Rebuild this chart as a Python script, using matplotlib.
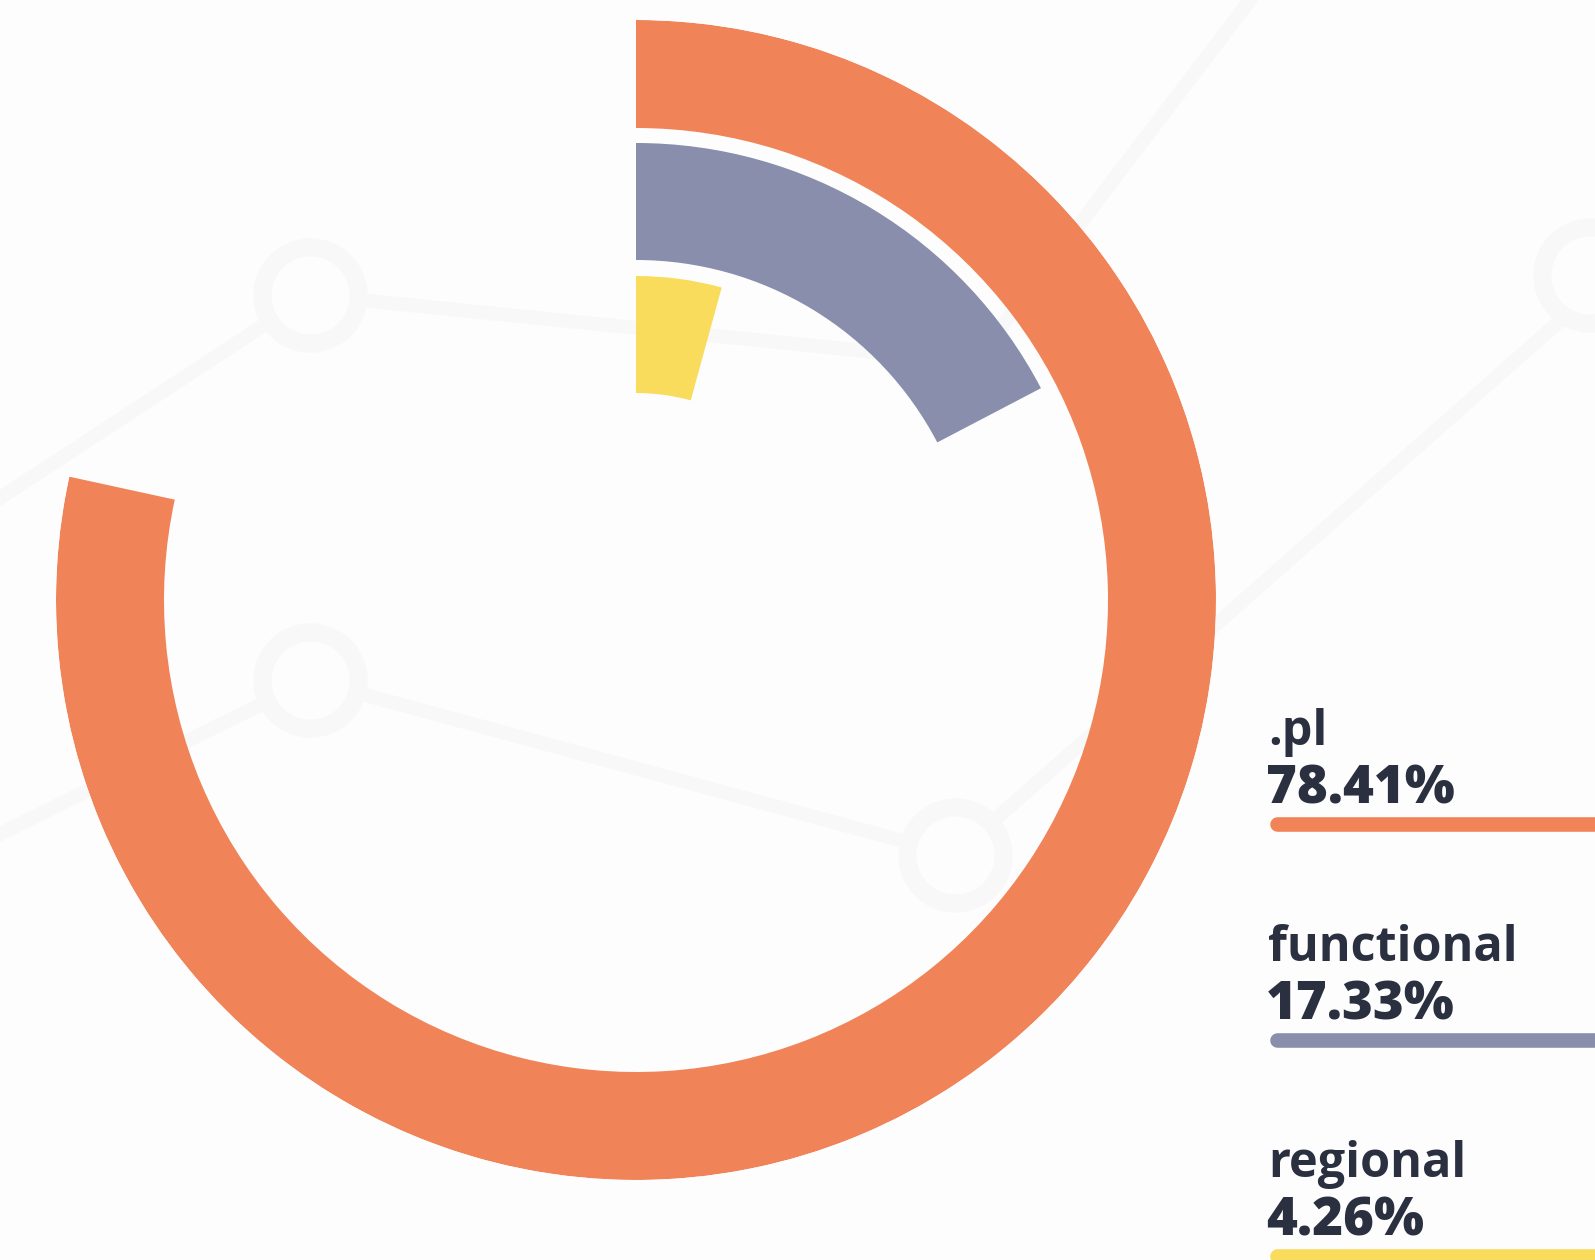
import numpy as np
import matplotlib.pyplot as plt

# data
categories = ['.pl', 'functional', 'regional']
shares = [78.41, 17.33, 4.26]
colors = ['#f08458', '#888eac', '#f9dc5c']
text_color = '#2b3040'

# faint decorative line chart in the background (pixel coords)
bg_line1_x = [0, 310, 975, 1250]
bg_line1_y = [498, 295, 362, 0]
bg_line2_x = [0, 310, 955, 1595]
bg_line2_y = [834, 680, 855, 290]
bg_dots_x = [310, 310, 955, 1590]
bg_dots_y = [295, 680, 855, 275]

W, H = 1595, 1260
fig = plt.figure(figsize=(W / 100, H / 100), dpi=100)
fig.patch.set_facecolor('#fdfdfd')

# background / legend axes in pixel coordinates
bg = fig.add_axes([0, 0, 1, 1])
bg.set_xlim(0, W)
bg.set_ylim(H, 0)
bg.axis('off')
faint = '#f8f8f8'
bg.plot(bg_line1_x, bg_line1_y, color=faint, lw=10, zorder=0)
bg.plot(bg_line2_x, bg_line2_y, color=faint, lw=10, zorder=0)
bg.scatter(bg_dots_x, bg_dots_y, s=4800, facecolor='#fdfdfd', edgecolor=faint,
           linewidth=13, zorder=1)

# radial bars
cx, cy, R = 636, 600, 580
pol = fig.add_axes([(cx - R) / W, (H - cy - R) / H, 2 * R / W, 2 * R / H],
                   projection='polar')
pol.set_theta_zero_location('N')
pol.set_theta_direction(-1)
pol.set_ylim(0, R)
pol.axis('off')
pol.patch.set_alpha(0)

ring_mid = [526, 398.5, 265.5]
ring_width = [108, 117, 117]
theta = [v / 100 * 2 * np.pi for v in shares]
pol.barh(ring_mid, theta, left=0, height=ring_width, color=colors, linewidth=0)

# legend on the right
x0 = 1268
for i, (cat, val, col) in enumerate(zip(categories, shares, colors)):
    dy = i * 216
    bg.text(x0, 745 + dy, cat, fontsize=35, fontfamily='Open Sans', fontweight='bold',
            color=text_color, va='baseline', ha='left')
    bg.text(x0 - 2, 804 + dy, f'{val:.2f}%', fontsize=38, fontfamily='Open Sans',
            fontweight=800, color=text_color, va='baseline', ha='left')
    bg.plot([x0 + 9, W + 20], [824 + dy, 824 + dy], color=col, lw=10.5,
            solid_capstyle='round')

fig.savefig('out.png', dpi=100, facecolor=fig.get_facecolor())
